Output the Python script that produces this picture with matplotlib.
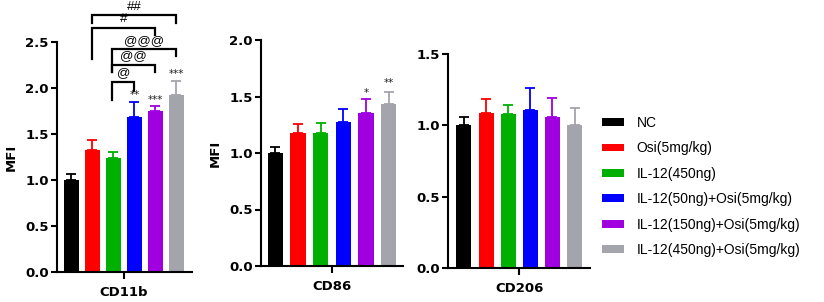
import matplotlib
matplotlib.use("Agg")
import matplotlib.pyplot as plt
from matplotlib.patches import Patch

# ---------------- data ----------------
groups = ["NC", "Osi(5mg/kg)", "IL-12(450ng)", "IL-12(50ng)+Osi(5mg/kg)",
          "IL-12(150ng)+Osi(5mg/kg)", "IL-12(450ng)+Osi(5mg/kg)"]
colors = ["#000000", "#FF0000", "#00B000", "#0000FF", "#A000E0", "#A4A4AC"]

markers = ["CD11b", "CD86", "CD206"]
cd11b_mean = [1.00, 1.33, 1.24, 1.68, 1.75, 1.92]
cd11b_err = [0.07, 0.11, 0.065, 0.17, 0.05, 0.16]
cd86_mean = [1.00, 1.18, 1.18, 1.275, 1.355, 1.43]
cd86_err = [0.05, 0.08, 0.085, 0.11, 0.12, 0.11]
cd206_mean = [1.00, 1.085, 1.08, 1.11, 1.055, 1.00]
cd206_err = [0.06, 0.10, 0.065, 0.155, 0.135, 0.12]

ylims = [2.5, 2.0, 1.5]
yticks = [[0, 0.5, 1.0, 1.5, 2.0, 2.5], [0, 0.5, 1.0, 1.5, 2.0], [0, 0.5, 1.0, 1.5]]

# significance stars per panel: (group index, text, y)
stars = {
    0: [(3, "**", 1.92), (4, "***", 1.87), (5, "***", 2.15)],
    1: [(4, "*", 1.53), (5, "**", 1.62)],
    2: [],
}
# brackets in CD11b panel: (x1, x2, y, left leg end, right leg end, label)
brackets = [
    (1, 5, 2.79, 2.71, 2.71, "##"),
    (1, 4, 2.65, 2.32, 2.58, "#"),
    (1.93, 5, 2.42, 2.17, 2.35, "@@@"),
    (1.93, 4, 2.25, 2.17, 2.17, "@@"),
    (1.93, 3, 2.07, 1.87, 1.97, "@"),
]

means = [cd11b_mean, cd86_mean, cd206_mean]
errs = [cd11b_err, cd86_err, cd206_err]

# ---------------- figure ----------------
fig = plt.figure(figsize=(8.24, 3.02), dpi=100)
W, H = 824, 302
# axes pixel boxes: left, right, bottom, top
boxes = [(57, 192, 272, 42), (261, 403, 266, 40), (448, 590, 268, 54)]
xlims = [(-0.69, 5.74), (-0.64, 5.64), (-0.72, 5.7)]

tick_font = dict(family="DejaVu Sans", weight="bold", size=9.5)

axes = []
for i, (l, r, b, t) in enumerate(boxes):
    ax = fig.add_axes([l / W, (H - b) / H, (r - l) / W, (b - t) / H])
    axes.append(ax)
    x = list(range(len(groups)))
    ax.bar(x, means[i], width=0.68, color=colors, zorder=2)
    for j in x:
        ax.errorbar(j, means[i][j], yerr=[[0], [errs[i][j]]], color=colors[j],
                    capsize=3.5, elinewidth=1.3, capthick=1.3, fmt="none", zorder=1)
    ax.set_xlim(*xlims[i])
    ax.set_ylim(0, ylims[i])
    ax.set_yticks(yticks[i])
    ax.set_yticklabels([f"{v:.1f}" for v in yticks[i]], **tick_font)
    ax.set_xticks([2.5])
    ax.set_xticklabels([markers[i]], **tick_font)
    for s in ["top", "right"]:
        ax.spines[s].set_visible(False)
    for s in ["left", "bottom"]:
        ax.spines[s].set_linewidth(1.5)
    ax.tick_params(axis="y", width=1.5, length=4, pad=2)
    ax.tick_params(axis="x", width=1.5, length=5, pad=5)
    if i < 2:
        ax.set_ylabel("MFI", fontdict=tick_font, labelpad=5)
    for (gi, txt, yy) in stars[i]:
        ax.text(gi, yy, txt, ha="center", va="center", fontsize=7.5,
                color="#222222", clip_on=False)

ax0 = axes[0]
for (x1, x2, yy, yl, yr, lab) in brackets:
    ax0.plot([x1, x1, x2, x2], [yl, yy, yy, yr], color="black", lw=1.6,
             clip_on=False, solid_joinstyle="miter")
    ax0.text((x1 + x2) / 2, yy + 0.03, lab, ha="center", va="bottom",
             fontsize=9.5, family="Liberation Sans", clip_on=False)

handles = [Patch(facecolor=c, edgecolor="none") for c in colors]
fig.legend(handles, groups, loc="upper left", bbox_to_anchor=(602 / W, (H - 116) / H),
           frameon=False, prop=dict(family="Liberation Sans", size=10),
           handlelength=1.6, handleheight=0.5, handletextpad=0.9, labelspacing=0.82,
           borderaxespad=0, borderpad=0)

fig.savefig("out.png", dpi=100)
